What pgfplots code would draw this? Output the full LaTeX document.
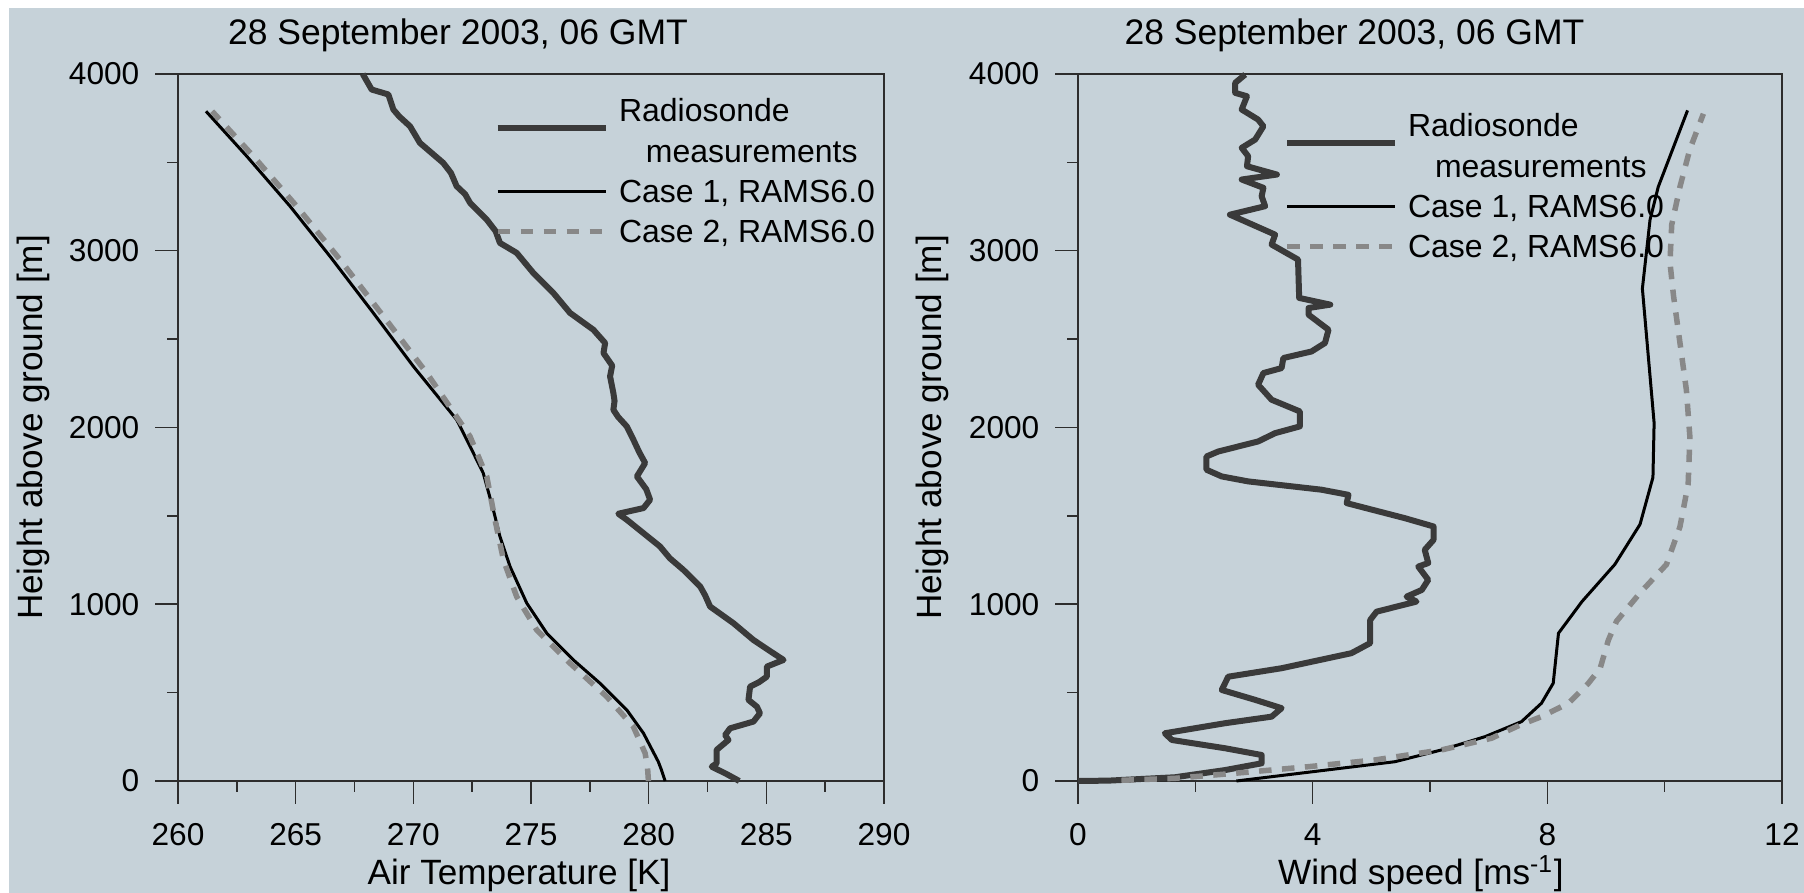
\documentclass[border=0pt]{standalone}
\usepackage{fontspec}
\setmainfont{Liberation Sans}
\usepackage{pgfplots}
\pgfplotsset{compat=1.18}
\definecolor{bg}{RGB}{198,210,217}
\definecolor{sonde}{RGB}{58,58,58}
\definecolor{casetwo}{RGB}{136,136,136}
\definecolor{axc}{RGB}{45,45,45}

\pgfplotsset{legend image code/.code={\path (0cm,0cm) -- (1.08cm,0cm); \draw[#1, overlay] (0cm,0cm) -- (1.08cm,0cm);}}
\pgfplotsset{
  prof/.style={
    scale only axis, anchor=south west, height=7.07cm,
    ymin=0, ymax=4000,
    ytick={0,1000,2000,3000,4000}, minor ytick={500,1500,2500,3500},
    tick pos=left, tick align=outside,
    major tick length=0.23cm, minor tick length=0.11cm,
    axis line style={axc, line width=0.015cm},
    tick style={axc, line width=0.015cm},
    scaled ticks=false,
    /pgf/number format/1000 sep={},
    /pgf/number format/assume math mode=true,
    tick label style={font=\fontsize{9.0}{10}\selectfont, inner sep=0pt, text=black},
    xticklabel style={anchor=north, yshift=-0.19cm},
    yticklabel style={anchor=east, xshift=-0.15cm},
    label style={font=\fontsize{10.0}{12}\selectfont},
    xlabel style={anchor=base},
    ylabel style={anchor=base, rotate=0},
    title style={font=\fontsize{10.1}{12}\selectfont, anchor=base, yshift=-6pt},
    clip=false,
    legend cell align=left,
    legend style={draw=none, fill=none, inner sep=0pt, outer sep=0pt,
      row sep=0pt, column sep=0.1cm, anchor=north west,
      font=\fontsize{9.1}{10.1}\selectfont, cells={anchor=west},
      nodes={inner sep=0pt, outer sep=0pt, text height=0.313cm, text depth=0.09cm}},
  },
  sondeline/.style={sonde, line width=0.06cm, line join=round},
  caseone/.style={black, line width=0.03cm, line join=round},
  casetwoline/.style={casetwo, line width=0.055cm, dash pattern=on 0.125cm off 0.105cm},
}

\begin{document}
\begin{tikzpicture}
\path[use as bounding box] (0,0) rectangle (18.04,8.93);
\fill[white] (0,0) rectangle (18.04,8.93);
\fill[bg] (0.09,0) rectangle (18.04,8.85);

% ---------------- left panel ----------------
\begin{axis}[prof, at={(1.78cm,1.12cm)}, width=7.06cm,
  xmin=260, xmax=290,
  xtick={260,265,270,275,280,285,290},
  minor xtick={262.5,267.5,272.5,277.5,282.5,287.5},
  title={28 September 2003, 06 GMT},
  title style={at={(0.3966,1.041)}},
  xlabel={Air Temperature [K]},
  xlabel style={at={(0.483,-0.147)}},
  ylabel={Height above ground [m]},
  ylabel style={at={(-0.1926,0.5)}},
  legend style={at={(0.449,0.9764)}},
]
\addplot[sondeline, forget plot] coordinates {
(283.85,0) (283.3,40) (282.68,81) (282.89,100) (282.89,176) (283.39,232) (283.25,260)
(283.46,298) (284.45,336) (284.73,383) (284.6,420) (284.24,459) (284.31,534) (284.7,560) (285.02,590)
(285.02,647) (285.73,685) (285.1,740) (284.45,798) (283.60,893) (282.61,987) (282.4,1050) (282.19,1100)
(281.47,1195) (280.9,1260) (280.48,1327) (279.07,1478) (278.71,1512) (279.78,1544) (280.06,1591)
(279.9,1650) (279.50,1723) (279.85,1799) (279.6,1860) (279.35,1931) (279.07,2006) (278.7,2060) (278.50,2100) (278.55,2150) (278.50,2195)
(278.36,2289) (278.45,2350) (278.08,2421) (278.15,2478) (277.65,2553) (276.66,2648) (275.95,2761)
(275.10,2874) (274.39,2988) (273.68,3044) (273.5,3110) (273.12,3176) (272.41,3271) (272.2,3320) (271.84,3365)
(271.6,3440) (271.27,3497) (270.28,3610) (269.86,3704) (269.4,3760) (269.15,3799) (268.94,3884) (268.23,3912)
(267.85,4000)
};
\addlegendimage{sondeline, yshift=-0.17cm}
\addlegendentry{Radiosonde}
\addlegendimage{draw opacity=0}
\addlegendentry{\hspace*{0.27cm}measurements}
\addplot[caseone] coordinates {
(280.70,0) (280.55,60) (280.41,109) (279.78,270) (279.07,402) (277.93,553)
(276.80,685) (275.67,836) (274.82,1006) (274.11,1213) (273.68,1383) (273.40,1534)
(272.97,1742) (272.27,1931) (271.84,2044) (270.00,2346) (268.30,2648) (266.46,2968)
(264.76,3252) (262.92,3535) (261.19,3789)
};
\addlegendentry{Case 1, RAMS6.0}
\addplot[casetwoline] coordinates {
(279.99,0) (279.95,80) (279.85,157) (279.35,307) (278.22,477) (276.66,666)
(275.24,855) (274.39,1043) (273.83,1251) (273.47,1478) (273.12,1723) (272.41,1949)
(270.57,2308) (268.73,2629) (266.88,2950) (265.04,3252) (263.20,3535) (261.45,3789)
};
\addlegendentry{Case 2, RAMS6.0}
\end{axis}

% ---------------- right panel ----------------
\begin{axis}[prof, at={(10.78cm,1.12cm)}, width=7.04cm,
  xmin=0, xmax=12,
  xtick={0,4,8,12},
  minor xtick={2,6,10},
  title={28 September 2003, 06 GMT},
  title style={at={(0.3928,1.041)}},
  xlabel={Wind speed [ms\textsuperscript{-1}]},
  xlabel style={at={(0.487,-0.147)}},
  ylabel={Height above ground [m]},
  ylabel style={at={(-0.1932,0.5)}},
  legend style={at={(0.2926,0.9552)}},
]
\addplot[sondeline, forget plot] coordinates {
(0,0) (0.52,2) (1.65,21) (2.51,62) (3.13,100) (3.13,147) (2.51,185) (1.60,232)
(1.48,270) (2.51,327) (3.30,364) (3.47,412) (3.02,459) (2.45,515) (2.56,590)
(3.47,638) (4.66,723) (4.98,780) (4.98,911) (5.09,958) (5.77,1015) (5.60,1043)
(5.86,1081) (5.97,1138) (5.80,1213) (5.97,1233) (5.91,1308) (6.06,1364) (6.06,1440)
(5.57,1487) (4.58,1572) (4.61,1619) (4.15,1648) (2.90,1695) (2.45,1723) (2.19,1761)
(2.19,1836) (2.39,1864) (3.07,1921) (3.36,1968) (3.78,2006) (3.78,2091) (3.30,2157)
(3.07,2242) (3.16,2308) (3.47,2336) (3.50,2393) (3.98,2430) (4.21,2478) (4.27,2553)
(3.93,2638) (3.93,2676) (4.30,2695) (3.77,2733) (3.75,2950) (3.30,3035) (3.36,3091)
(2.59,3204) (3.19,3252) (3.13,3308) (3.16,3356) (2.79,3403) (3.39,3431) (2.88,3478)
(2.90,3535) (2.79,3582) (3.02,3629) (3.16,3704) (3.07,3742) (2.79,3799) (2.88,3874)
(2.68,3893) (2.68,3950) (2.85,3997)
};
\addlegendimage{sondeline, yshift=-0.17cm}
\addlegendentry{Radiosonde}
\addlegendimage{draw opacity=0}
\addlegendentry{\hspace*{0.27cm}measurements}
\addplot[caseone] coordinates {
(2.70,0) (5.40,109) (6.20,176) (6.94,251) (7.56,336) (7.90,440) (8.10,553)
(8.19,836) (8.59,1015) (9.15,1225) (9.58,1452) (9.80,1718) (9.82,2026)
(9.62,2786) (9.75,3174) (9.89,3361) (10.39,3794)
};
\addlegendentry{Case 1, RAMS6.0}
\addplot[casetwoline] coordinates {
(0.74,4) (1.65,15) (2.79,47) (3.93,81) (5.06,119) (6.20,176) (7.05,242)
(7.53,316) (7.90,364) (8.36,440) (8.70,553) (8.90,637) (9.04,797) (9.18,904)
(9.58,1064) (10.03,1225) (10.26,1438) (10.40,1679) (10.43,1945) (10.37,2212)
(10.26,2480) (10.15,2747) (10.09,2934) (10.12,3147) (10.26,3361) (10.43,3575)
(10.66,3775)
};
\addlegendentry{Case 2, RAMS6.0}
\end{axis}
\end{tikzpicture}
\end{document}
